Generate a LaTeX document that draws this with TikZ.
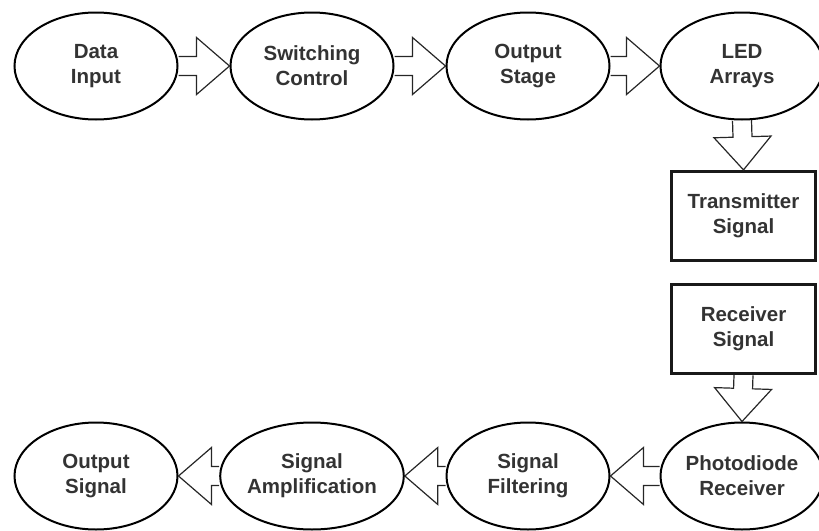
\documentclass[tikz,border=0pt]{standalone}
\usepackage{fontspec}
\setmainfont{Liberation Sans}
\usetikzlibrary{calc,shapes.geometric}

\tikzset{
  base/.style={align=center, text=black!80, font=\fontsize{20.5}{25}\selectfont\bfseries, inner sep=0pt},
  oval/.style={base, draw=black, line width=2pt, ellipse, minimum width=163pt, minimum height=107pt},
  boxnode/.style={base, draw=black!90, line width=3.2pt, rectangle, minimum width=144pt, minimum height=89pt},
  blockarr/.style={draw=black!85, line width=1.2pt, line join=miter}
}

% Hollow block arrow from point #1 to tip point #2
\newcommand\blockarrow[2]{%
  \path (#1) coordinate (ba-s) (#2) coordinate (ba-t)
        ($(ba-t)!33pt!(ba-s)$) coordinate (ba-h);
  \draw[blockarr]
    ($(ba-s)!9.5pt!90:(ba-t)$) -- ($(ba-h)!9.5pt!90:(ba-t)$)
    -- ($(ba-h)!28.5pt!90:(ba-t)$) -- (ba-t)
    -- ($(ba-h)!28.5pt!-90:(ba-t)$) -- ($(ba-h)!9.5pt!-90:(ba-t)$)
    -- ($(ba-s)!9.5pt!-90:(ba-t)$);
}

\begin{document}
\begin{tikzpicture}[x=1pt, y=-1pt]
  \useasboundingbox (0,0) rectangle (819,530);

  % transmitter chain
  \node[oval] (data) at (96,66) {Data\\Input};
  \node[oval] (switch) at (312,66) {Switching\\Control};
  \node[oval] (outstage) at (528,66) {Output\\Stage};
  \node[oval] (led) at (742,66) {LED\\Arrays};
  \node[boxnode] (tx) at (743.5,216) {Transmitter\\Signal};

  % receiver chain
  \node[boxnode] (rx) at (743.5,329) {Receiver\\Signal};
  \node[oval] (photo) at (742,476) {Photodiode\\Receiver};
  \node[oval] (filter) at (528,476) {Signal\\Filtering};
  \node[oval] (amp) at (312,476) {Signal\\Amplification};
  \node[oval] (outsig) at (96,476) {Output\\Signal};

  % connectors
  \blockarrow{data.east}{switch.west}
  \blockarrow{switch.east}{outstage.west}
  \blockarrow{outstage.east}{led.west}
  \blockarrow{led.south}{tx.north}
  \blockarrow{rx.south}{photo.north}
  \blockarrow{photo.west}{filter.east}
  \blockarrow{filter.west}{amp.east}
  \blockarrow{amp.west}{outsig.east}
\end{tikzpicture}
\end{document}
